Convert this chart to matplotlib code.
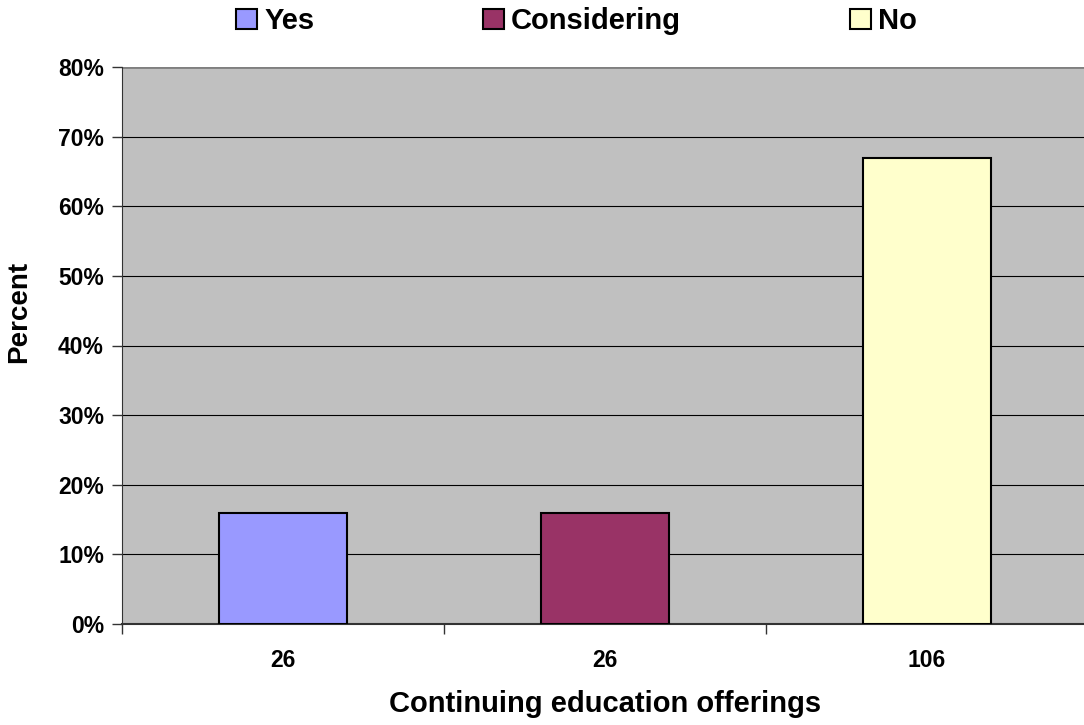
import matplotlib
matplotlib.use("Agg")
import matplotlib.pyplot as plt
from matplotlib.patches import Patch
from matplotlib.ticker import FuncFormatter, FixedLocator

categories = ["26", "26", "106"]
series_names = ["Yes", "Considering", "No"]
values = [0.16, 0.16, 0.67]
colors = ["#9999FF", "#993366", "#FFFFCC"]
yticks = [0, 0.1, 0.2, 0.3, 0.4, 0.5, 0.6, 0.7, 0.8]

plt.rcParams['font.family'] = ['Liberation Sans', 'DejaVu Sans']
plt.rcParams['font.weight'] = 'bold'

fig = plt.figure(figsize=(10.84, 7.25), dpi=100)
ax = fig.add_axes([122/1084, 101/725, 966/1084, 557/725])
ax.set_facecolor("#C0C0C0")

x = list(range(len(categories)))
ax.bar(x, values, width=0.4, color=colors, edgecolor="black", linewidth=1.5, zorder=3)

ax.set_xlim(-0.5, len(categories) - 0.5)
ax.set_ylim(0, 0.8)
ax.set_yticks(yticks)
ax.yaxis.set_major_formatter(FuncFormatter(lambda v, p: f"{v*100:.0f}%"))
ax.yaxis.grid(True, color="black", linewidth=0.8, zorder=1)
ax.set_axisbelow(True)

ax.xaxis.set_major_locator(FixedLocator([i - 0.5 for i in range(len(categories) + 1)]))
ax.xaxis.set_major_formatter(FuncFormatter(lambda v, p: ""))
ax.xaxis.set_minor_locator(FixedLocator(x))
ax.set_xticklabels(categories, minor=True)
ax.tick_params(axis='x', which='minor', length=0, pad=18, labelsize=16.5)
ax.tick_params(axis='x', which='major', length=7, width=1, color="#333333")
ax.tick_params(axis='y', length=7, width=1, color="#333333", labelsize=16.5, pad=6)
for lbl in ax.get_xticklabels(minor=True) + ax.get_yticklabels():
    lbl.set_fontweight('bold')

for s in ["top", "right"]:
    ax.spines[s].set_visible(False)
ax.spines["left"].set_color("#333333")
ax.spines["bottom"].set_color("#333333")
ax.spines["bottom"].set_linewidth(1.5)
ax.axhline(0.8, color="#808080", linewidth=2, zorder=2)

ax.set_xlabel("Continuing education offerings", fontsize=21, fontweight='bold', labelpad=13)
ax.set_ylabel("Percent", fontsize=20, fontweight='bold')
ax.yaxis.set_label_coords((32 - 122) / 966, (624 - 312) / 557)

handles = [Patch(facecolor=c, edgecolor="black", linewidth=1.5, label=n) for c, n in zip(colors, series_names)]
fig.legend(handles=handles, loc="center", bbox_to_anchor=(0.532, 0.971), ncol=3, frameon=False,
           prop={'size': 21, 'weight': 'bold'}, handlelength=0.7, handleheight=0.7,
           handletextpad=0.25, columnspacing=5.8, borderpad=0, borderaxespad=0)

fig.savefig("out.png", dpi=100)
